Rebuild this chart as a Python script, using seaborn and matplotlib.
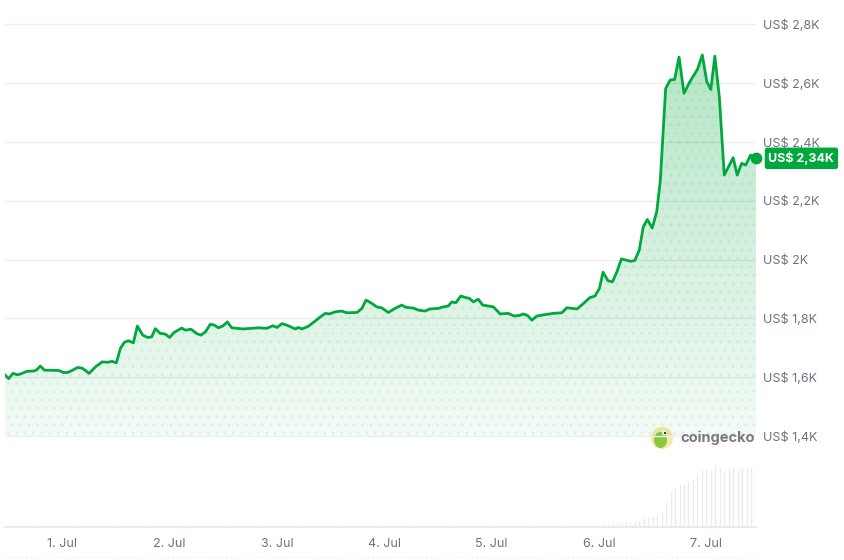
import numpy as np
import pandas as pd
import matplotlib
matplotlib.use("Agg")
import matplotlib.pyplot as plt
import matplotlib.dates as mdates
import seaborn as sns
from matplotlib.patches import Circle, Ellipse, Polygon
from matplotlib.ticker import FuncFormatter, FixedLocator
from matplotlib.lines import Line2D

start = pd.Timestamp("2025-07-01 00:00")

# price: hours after 1 Jul 00:00 -> US$
price_hours = [-13.0, -12.0, -11.0, -10.0, -9.0, -7.9, -6.4, -5.8, -4.9, -4.0,
               -0.8, 0.3, 1.2, 2.2, 3.4, 4.4, 5.1, 6.0, 7.4, 8.9,
               10.3, 11.1, 12.1, 13.0, 13.9, 14.8, 15.9, 16.8, 18.0, 19.1,
               20.0, 20.8, 21.9, 23.0, 24.0, 25.0, 26.7, 27.5, 28.8, 30.1,
               31.0, 32.0, 33.1, 34.0, 34.9, 35.9, 36.9, 37.9, 40.5, 42.0,
               43.9, 45.7, 47.1, 48.0, 49.1, 50.2, 52.1, 52.8, 53.6, 55.0,
               56.3, 57.7, 58.8, 59.7, 61.0, 62.5, 63.6, 65.9, 67.0, 67.9,
               69.2, 70.3, 71.4, 72.9, 74.4, 75.9, 77.0, 78.5, 79.6, 81.1,
               82.2, 84.1, 85.2, 86.3, 87.1, 88.0, 89.1, 90.1, 91.0, 91.9,
               93.0, 94.0, 95.3, 96.4, 97.9, 99.7, 101.0, 102.2, 103.1, 104.0,
               105.0, 106.1, 107.6, 109.8, 111.7, 112.8, 113.9, 115.1, 116.1, 118.0,
               119.1, 120.1, 120.9, 122.0, 123.0, 124.0, 125.0, 127.1, 128.0, 129.0,
               129.9, 130.8, 131.9, 132.9, 133.7, 134.2, 134.9, 135.9, 136.9, 137.9,
               139.0, 140.3, 142.0, 143.1, 144.1, 145.0, 145.9, 146.9, 148.0, 150.0,
               150.9, 151.9, 152.8, 153.9, 155.1]
price_usd = [1611, 1595, 1613, 1608, 1613, 1620, 1621, 1624, 1638, 1624,
             1623, 1616, 1616, 1623, 1633, 1631, 1624, 1613, 1635, 1652,
             1651, 1654, 1649, 1698, 1719, 1724, 1717, 1774, 1743, 1735,
             1737, 1765, 1749, 1747, 1735, 1752, 1767, 1760, 1763, 1748,
             1743, 1754, 1780, 1777, 1768, 1774, 1788, 1768, 1764, 1766,
             1768, 1766, 1775, 1769, 1782, 1777, 1764, 1769, 1764, 1773,
             1788, 1805, 1817, 1815, 1822, 1825, 1819, 1820, 1834, 1862,
             1851, 1839, 1836, 1820, 1834, 1845, 1837, 1835, 1828, 1825,
             1832, 1834, 1839, 1842, 1856, 1853, 1876, 1871, 1868, 1856,
             1865, 1845, 1842, 1839, 1815, 1817, 1808, 1810, 1815, 1810,
             1794, 1808, 1812, 1817, 1819, 1836, 1834, 1832, 1845, 1871,
             1876, 1902, 1957, 1928, 1924, 1958, 2002, 1994, 1997, 2032,
             2111, 2136, 2107, 2162, 2266, 2395, 2581, 2610, 2612, 2688,
             2565, 2604, 2646, 2695, 2604, 2578, 2691, 2553, 2287, 2346,
             2287, 2327, 2321, 2355, 2344]

# hourly volume (M US$), 30 Jun 12:00 .. 7 Jul 11:00
vol_hours = list(range(-12, 156))
volume = [20, 20, 20, 20, 20, 20, 20, 20, 20, 20, 20, 20,
          20, 20, 20, 20, 20, 20, 20, 20, 20, 20, 20, 20, 20, 20, 20, 20, 20, 20, 20, 20, 20, 20, 20, 20,
          20, 20, 20, 20, 20, 20, 20, 20, 20, 20, 20, 20, 20, 20, 20, 20, 20, 20, 20, 20, 20, 20, 20, 20,
          20, 20, 20, 20, 20, 20, 20, 20, 20, 20, 20, 20, 20, 20, 20, 20, 20, 20, 20, 20, 20, 20, 20, 20,
          20, 20, 20, 20, 20, 20, 20, 20, 20, 20, 20, 20, 20, 20, 20, 20, 20, 20, 20, 20, 20, 20, 20, 20,
          20, 20, 20, 20, 20, 20, 20, 20, 20, 20, 20, 20, 20, 20, 20, 20,
          20, 20, 20, 20, 20, 20, 20, 20, 20, 30, 30, 40, 40, 40, 53, 53,
          63, 73, 90, 103, 110, 120, 153, 250, 350, 400, 420, 420, 450, 480, 520, 570,
          570, 570, 620, 587, 560, 577, 587, 570, 597, 587, 587, 587]

price_ticks = [1400, 1600, 1800, 2000, 2200, 2400, 2600, 2800]
last_label = "US$ 2,34K"

green = "#00a83e"
grey_txt = "#6b7280"

times = start + pd.to_timedelta(price_hours, unit="h")
vtimes = start + pd.to_timedelta(vol_hours, unit="h")

sns.set_theme(style="white")
plt.rcParams["font.family"] = ["Inter", "DejaVu Sans"]

fig = plt.figure(figsize=(8.45, 5.6), dpi=100)
ax = fig.add_axes([5 / 845, 33 / 560, 751 / 845, 507 / 560])
axv = ax.twinx()
axv.set_zorder(0)
ax.set_zorder(1)
ax.patch.set_visible(False)

# volume bars
axv.vlines(vtimes, 0, volume, color="#e9ebef", lw=1.0)
axv.set_ylim(0, 5070)
axv.axis("off")

# gradient fill under price
xnum = mdates.date2num(times)
verts = [(xnum[0], 1400)] + list(zip(xnum, price_usd)) + [(xnum[-1], 1400)]
poly = Polygon(verts, facecolor="none", edgecolor="none")
ax.add_patch(poly)
rgb = matplotlib.colors.to_rgb(green)
grad = np.zeros((256, 1, 4))
grad[..., 0], grad[..., 1], grad[..., 2] = rgb
grad[:, 0, 3] = np.linspace(0.30, 0.05, 256)
im = ax.imshow(grad, aspect="auto", origin="upper", zorder=1,
               extent=[xnum[0], xnum[-1], 1400, 2720])
im.set_clip_path(poly)
ax.fill_between(times, price_usd, 1400, facecolor="none", hatch="..",
                edgecolor=(0, 0.66, 0.24, 0.06), linewidth=0, zorder=1)

sns.lineplot(x=times, y=price_usd, ax=ax, color=green, lw=2, zorder=3)
ax.plot(times[-1], price_usd[-1], "o", color=green, ms=7.5, zorder=4, clip_on=False)
ax.annotate(last_label, xy=(times[-1], price_usd[-1]), xytext=(9, 0),
            textcoords="offset points", ha="left", va="center", color="white",
            fontsize=9, fontweight="bold", annotation_clip=False,
            bbox=dict(boxstyle="round,pad=0.3,rounding_size=0.2", fc=green, ec="none"))

ax.set_xlim(start - pd.Timedelta(hours=12.8), start + pd.Timedelta(hours=155.1))
ax.set_ylim(1091, 2814)

ax.yaxis.tick_right()
ax.yaxis.set_major_locator(FixedLocator(price_ticks))
def usd_fmt(v, pos):
    s = f"{v / 1000:.1f}".rstrip("0").rstrip(".").replace(".", ",")
    return f"US$ {s}K"
ax.yaxis.set_major_formatter(FuncFormatter(usd_fmt))
ax.tick_params(axis="y", length=0, pad=5, labelsize=9, labelcolor=grey_txt)
ax.grid(axis="y", color="#eeeeee", lw=1)
ax.grid(axis="x", visible=False)

ax.xaxis.set_major_locator(mdates.DayLocator())
ax.xaxis.set_major_formatter(FuncFormatter(
    lambda v, pos: f"{mdates.num2date(v).day}. {mdates.num2date(v).strftime('%b')}"))
ax.tick_params(axis="x", direction="out", length=6, width=1, color="#e5e7eb",
               pad=2, labelsize=9, labelcolor=grey_txt)
for side in ["left", "top", "right"]:
    ax.spines[side].set_visible(False)
ax.spines["bottom"].set_color("#e5e7eb")
ax.set_xlabel("")
ax.set_ylabel("")

# coingecko watermark
fig.add_artist(Circle((6.62, 1.22), 0.11, transform=fig.dpi_scale_trans,
                      fc="#f7e8a8", ec="none"))
fig.add_artist(Ellipse((6.605, 1.20), 0.13, 0.16, transform=fig.dpi_scale_trans,
                       fc="#8dc63f", ec="none"))
fig.add_artist(Circle((6.645, 1.27), 0.025, transform=fig.dpi_scale_trans,
                      fc="white", ec="none"))
fig.add_artist(Circle((6.65, 1.27), 0.012, transform=fig.dpi_scale_trans,
                      fc="#333333", ec="none"))
fig.text(680 / 845, 1 - 438 / 560, "coingecko", ha="left", va="center",
         fontsize=10.5, fontweight="bold", color="#7c7880")

fig.add_artist(Line2D([5 / 845, 756 / 845], [1 - 557 / 560] * 2,
                      color="#eeeeee", lw=1, ls=(0, (1, 2))))

fig.savefig("out.png", dpi=100)
